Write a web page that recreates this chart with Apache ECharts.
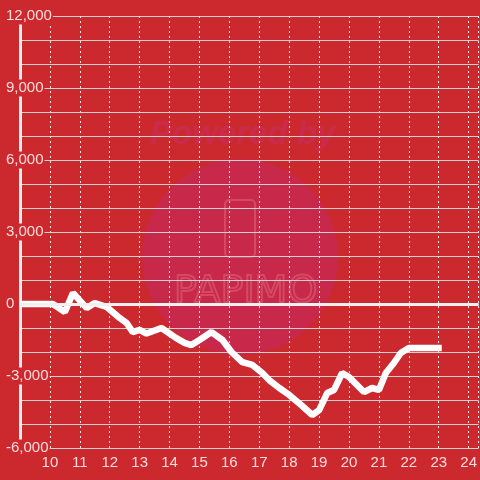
<!DOCTYPE html>
<html>
<head>
<meta charset="utf-8">
<script src="https://cdn.jsdelivr.net/npm/echarts@6/dist/echarts.min.js"></script>
<style>
  html, body { margin: 0; padding: 0; background: #cc292e; }
  #chart { width: 480px; height: 480px; }
</style>
</head>
<body>
<div id="chart"></div>
<script>
// Hours of the day and running value
const hours = [9.0, 10.1, 10.5, 10.77, 11.23, 11.5, 11.9, 12.33, 12.57, 12.77, 13.0, 13.23, 13.73, 14.2, 14.5, 14.73,
  15.0, 15.4, 15.77, 16.07, 16.43, 16.77, 17.1, 17.33, 17.67, 18.0, 18.4, 18.77, 19.0, 19.27, 19.5, 19.77,
  20.0, 20.5, 20.77, 21.0, 21.23, 21.5, 21.73, 22.0, 23.1];
const values = [0, 0, -330, 460, -170, 40, -125, -580, -800, -1170, -1080, -1230, -1000, -1400, -1620, -1710,
  -1500, -1170, -1500, -2000, -2420, -2540, -2875, -3170, -3500, -3790, -4210, -4625, -4420, -3710, -3580, -2875,
  -3040, -3670, -3500, -3580, -2875, -2460, -2040, -1830, -1830];

const labelColor = 'rgba(255,236,236,0.92)';

document.addEventListener('DOMContentLoaded', () => {
  const chart = echarts.init(document.getElementById('chart'));
  chart.setOption({
    backgroundColor: '#cc292e',
    animation: false,
    grid: { left: 20, right: 0, top: 16, bottom: 32 },
    graphic: [
      { type: 'circle', z: -10, shape: { cx: 240, cy: 257, r: 98 }, style: { fill: '#c82849' } },
      { type: 'text', z: -10, left: 150, top: 118,
        style: { text: 'Powered by', fill: '#cb2b4a', fontStyle: 'italic', fontWeight: 'bold',
          fontSize: 33, fontFamily: 'Liberation Sans' } },
      { type: 'rect', z: -9, shape: { x: 225, y: 200, width: 30, height: 57, r: 4 },
        style: { fill: 'none', stroke: '#d44a63', lineWidth: 2 } },
      { type: 'text', z: -9, left: 173, top: 272,
        style: { text: 'PAPIMO', fill: 'none', stroke: '#d44a63', lineWidth: 2,
          fontSize: 38, fontFamily: 'DejaVu Sans' } }
    ],
    xAxis: {
      type: 'value',
      min: 9,
      max: 24.333,
      interval: 1,
      axisLine: { show: false },
      axisTick: { show: false },
      axisLabel: {
        color: labelColor, fontSize: 15, margin: 7,
        showMinLabel: false, showMaxLabel: false,
        fontFamily: 'Liberation Sans'
      },
      splitLine: { show: true, lineStyle: { color: '#e6e6e6', type: [2, 3], width: 1 } }
    },
    yAxis: {
      type: 'value',
      min: -6000,
      max: 12000,
      interval: 3000,
      axisLine: { show: true, lineStyle: { color: '#eeeeee', width: 3 } },
      axisTick: { show: false },
      axisLabel: {
        color: labelColor, fontSize: 15, align: 'left', margin: 15,
        fontFamily: 'Liberation Sans',
        backgroundColor: '#cc292e', padding: [1, 1],
        formatter: v => v.toLocaleString('en-US')
      },
      splitLine: { lineStyle: { color: '#d2d2d2', width: 1 } },
      minorTick: { show: false, splitNumber: 3 },
      minorSplitLine: { show: true, lineStyle: { color: '#d2d2d2', width: 1 } }
    },
    series: [{
      type: 'line',
      data: hours.map((h, i) => [h, values[i]]),
      showSymbol: false,
      lineStyle: { color: '#ffffff', width: 6.5 },
      markLine: {
        silent: true,
        symbol: 'none',
        label: { show: false },
        lineStyle: { color: '#f0f0f0', width: 3, type: 'solid' },
        data: [{ yAxis: 0 }]
      }
    }]
  });
});
</script>
</body>
</html>
